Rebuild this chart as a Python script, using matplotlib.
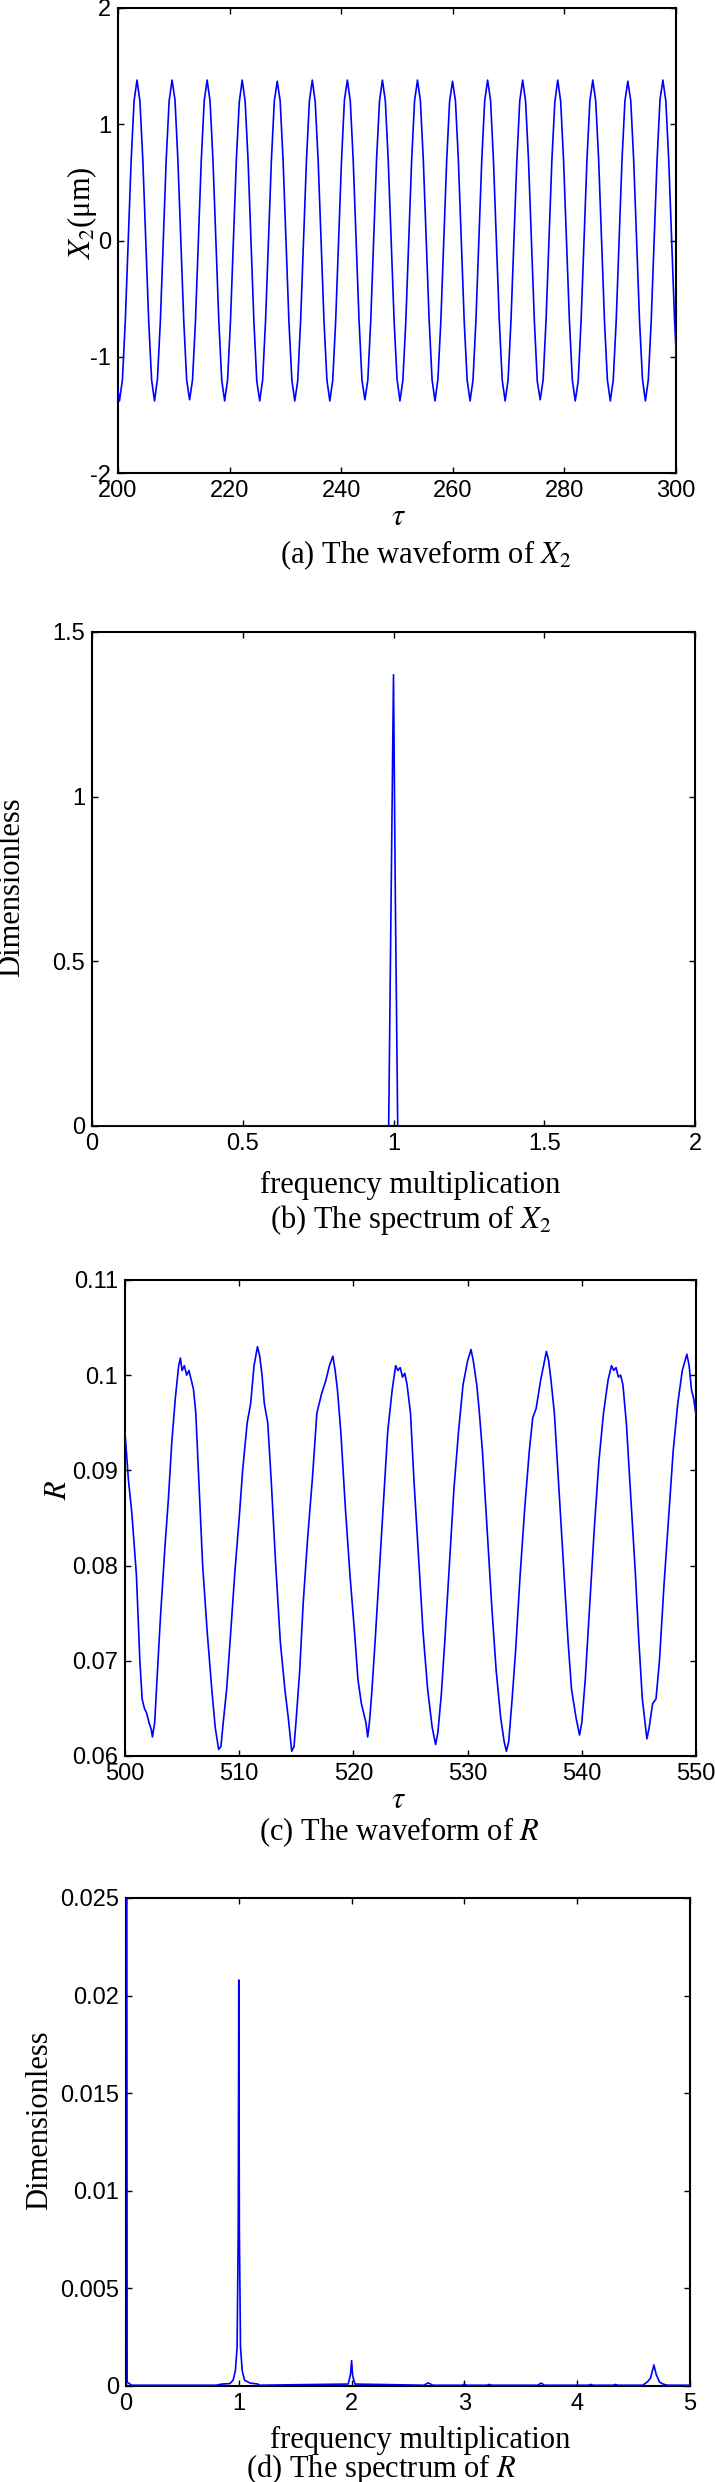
import numpy as np
import matplotlib
matplotlib.use('Agg')
import matplotlib.pyplot as plt
from matplotlib.ticker import FormatStrFormatter

plt.rcParams['font.family'] = ['Liberation Sans', 'DejaVu Sans']
plt.rcParams['mathtext.fontset'] = 'stix'

# (a) waveform of X2, sampled every 0.5236 tau starting at 199.74
x2_start, x2_step = 199.74, 0.5236
x2_vals = [-1.20,
           -1.38, -1.20, -0.69, 0.00, 0.69, 1.20, 1.38, 1.20, 0.69, 0.00, -0.69, -1.20,
           -1.38, -1.19, -0.69, 0.00, 0.70, 1.20, 1.38, 1.21, 0.69, 0.00, -0.69, -1.20,
           -1.37, -1.20, -0.70, 0.00, 0.69, 1.20, 1.38, 1.20, 0.69, 0.01, -0.69, -1.20,
           -1.38, -1.20, -0.69, 0.00, 0.69, 1.19, 1.38, 1.20, 0.70, 0.00, -0.69, -1.21,
           -1.38, -1.20, -0.69, 0.00, 0.69, 1.20, 1.37, 1.20, 0.69, 0.00, -0.70, -1.20,
           -1.38, -1.21, -0.69, 0.00, 0.69, 1.20, 1.38, 1.19, 0.69, 0.00, -0.69, -1.20,
           -1.38, -1.20, -0.69, 0.01, 0.69, 1.21, 1.38, 1.20, 0.69, 0.00, -0.69, -1.20,
           -1.37, -1.20, -0.69, 0.00, 0.70, 1.20, 1.38, 1.20, 0.68, 0.00, -0.69, -1.19,
           -1.38, -1.20, -0.70, 0.00, 0.69, 1.20, 1.38, 1.20, 0.69, 0.00, -0.69, -1.20,
           -1.38, -1.19, -0.69, 0.00, 0.69, 1.20, 1.37, 1.20, 0.69, 0.00, -0.70, -1.20,
           -1.38, -1.20, -0.69, 0.00, 0.69, 1.20, 1.38, 1.21, 0.69, 0.00, -0.69, -1.20,
           -1.38, -1.20, -0.69, 0.00, 0.68, 1.20, 1.38, 1.20, 0.69, 0.01, -0.69, -1.21,
           -1.37, -1.20, -0.69, 0.00, 0.69, 1.19, 1.38, 1.20, 0.69, 0.00, -0.69, -1.20,
           -1.38, -1.21, -0.69, 0.00, 0.69, 1.20, 1.38, 1.20, 0.70, 0.00, -0.69, -1.20,
           -1.38, -1.20, -0.70, 0.00, 0.69, 1.20, 1.37, 1.20, 0.69, 0.00, -0.69, -1.19,
           -1.38, -1.20, -0.69, 0.00, 0.69, 1.21, 1.38, 1.20, 0.69, 0.00, -0.69, -1.20]

# (b) spectrum of X2
freq_b = [0.0, 0.984, 1.0, 1.006, 1.014, 2.0]
amp_b = [0.0, 0.0, 1.37, 0.70, 0.0, 0.0]

# (c) waveform of R
tau_c = [500.0, 500.3, 500.6, 501.0, 501.3, 501.5, 501.7, 501.9, 502.1, 502.3, 502.4, 502.6,
         502.8, 503.1, 503.5, 503.8, 504.1, 504.4, 504.7, 504.85, 505.0, 505.2, 505.4, 505.6,
         505.8, 506.0, 506.2, 506.5, 506.8, 507.2, 507.6, 507.9, 508.2, 508.4, 508.6, 508.9,
         509.2, 509.6, 510.0, 510.3, 510.7, 511.0, 511.3, 511.6, 511.8, 512.0, 512.2, 512.5,
         512.8, 513.2, 513.6, 514.0, 514.3, 514.6, 514.8, 515.0, 515.3, 515.6, 516.0, 516.4,
         516.8, 517.2, 517.6, 517.9, 518.2, 518.4, 518.6, 518.9, 519.3, 519.7, 520.1, 520.4,
         520.7, 520.9, 521.1, 521.25, 521.4, 521.6, 521.9, 522.3, 522.7, 523.0, 523.4, 523.7,
         523.9, 524.1, 524.3, 524.5, 524.7, 525.0, 525.3, 525.7, 526.1, 526.5, 526.9, 527.2,
         527.4, 527.7, 528.0, 528.4, 528.8, 529.2, 529.6, 530.0, 530.3, 530.5, 530.8, 531.0,
         531.3, 531.7, 532.1, 532.5, 532.9, 533.2, 533.4, 533.6, 533.9, 534.2, 534.6, 535.0,
         535.4, 535.7, 536.0, 536.4, 536.9, 537.1, 537.3, 537.6, 538.0, 538.4, 538.8, 539.1,
         539.3, 539.5, 539.8, 540.0, 540.3, 540.7, 541.1, 541.5, 541.9, 542.3, 542.6, 542.8,
         543.0, 543.2, 543.4, 543.6, 543.9, 544.3, 544.7, 545.0, 545.3, 545.7, 545.9, 546.2,
         546.5, 546.8, 547.2, 547.6, 548.0, 548.4, 548.8, 549.2, 549.4, 549.6, 549.8, 550.0]
r_vals = [0.0940, 0.0890, 0.0855, 0.0790, 0.0700, 0.0660, 0.0650, 0.0645, 0.0635, 0.0628, 0.0620, 0.0635,
          0.0680, 0.0745, 0.0820, 0.0870, 0.0930, 0.0975, 0.1010, 0.1018, 0.1005, 0.1010, 0.1000, 0.1005,
          0.0995, 0.0985, 0.0960, 0.0880, 0.0800, 0.0730, 0.0670, 0.0630, 0.0607, 0.0610, 0.0635, 0.0670,
          0.0720, 0.0790, 0.0850, 0.0900, 0.0950, 0.0970, 0.1010, 0.1030, 0.1020, 0.1000, 0.0970, 0.0950,
          0.0890, 0.0800, 0.0720, 0.0670, 0.0640, 0.0605, 0.0610, 0.0640, 0.0690, 0.0760, 0.0830, 0.0890,
          0.0960, 0.0980, 0.0995, 0.1010, 0.1020, 0.1005, 0.0985, 0.0940, 0.0860, 0.0790, 0.0730, 0.0680,
          0.0655, 0.0645, 0.0635, 0.0620, 0.0635, 0.0665, 0.0720, 0.0800, 0.0880, 0.0940, 0.0985, 0.1010,
          0.1005, 0.1008, 0.0998, 0.1002, 0.0990, 0.0960, 0.0890, 0.0810, 0.0730, 0.0670, 0.0630, 0.0612,
          0.0625, 0.0665, 0.0720, 0.0800, 0.0880, 0.0940, 0.0990, 0.1015, 0.1027, 0.1015, 0.0990, 0.0965,
          0.0920, 0.0840, 0.0760, 0.0690, 0.0640, 0.0615, 0.0605, 0.0615, 0.0660, 0.0710, 0.0790, 0.0860,
          0.0920, 0.0955, 0.0965, 0.0995, 0.1025, 0.1015, 0.0995, 0.0960, 0.0880, 0.0800, 0.0720, 0.0670,
          0.0655, 0.0640, 0.0622, 0.0635, 0.0680, 0.0760, 0.0840, 0.0910, 0.0960, 0.0995, 0.1010, 0.1005,
          0.1008, 0.0998, 0.1000, 0.0990, 0.0950, 0.0870, 0.0790, 0.0720, 0.0660, 0.0618, 0.0630, 0.0655,
          0.0660, 0.0700, 0.0780, 0.0850, 0.0920, 0.0970, 0.1005, 0.1022, 0.1010, 0.0985, 0.0975, 0.0958]

# (d) spectrum of R
freq_d = [0.0, 0.01, 0.05, 0.80, 0.85, 0.92, 0.95, 0.97, 0.985, 0.995, 1.0, 1.005, 1.015,
          1.03, 1.05, 1.10, 1.17, 1.18, 1.97, 1.99, 2.0, 2.01, 2.03, 2.64, 2.68, 2.72,
          2.98, 3.0, 3.02, 3.20, 3.22, 3.24, 3.65, 3.68, 3.71, 4.10, 4.12, 4.14, 4.32,
          4.34, 4.36, 4.58, 4.62, 4.65, 4.68, 4.70, 4.73, 4.76, 4.80, 5.0]
amp_d = [0.09, 0.0002, 0.00004, 0.00004, 0.0001, 0.00012, 0.0003, 0.0008, 0.002, 0.008, 0.0208, 0.008, 0.002,
         0.0008, 0.0003, 0.00015, 0.0001, 0.00004, 0.0001, 0.0006, 0.0013, 0.0005, 0.0001, 0.00004, 0.00016, 0.00004,
         0.00004, 0.00010, 0.00004, 0.00004, 0.00008, 0.00004, 0.00004, 0.00015, 0.00004, 0.00004, 0.00008, 0.00004, 0.00004,
         0.00008, 0.00004, 0.00004, 0.0002, 0.0004, 0.00108, 0.0006, 0.0002, 0.0001, 0.00004, 0.00004]

W, H = 715, 2482
fig = plt.figure(figsize=(W / 100, H / 100), dpi=100)


def box(l, t, r, b):
    return [l / W, 1 - b / H, (r - l) / W, (b - t) / H]


def label(x, y, s, rot=0):
    fig.text(x / W, 1 - y / H, s, ha='center', va='center', rotation=rot,
             fontsize=22, family='Liberation Serif')


def style(ax):
    ax.tick_params(direction='in', length=4.3, width=1, top=True, right=True,
                   labelsize=17, pad=5)
    for s in ax.spines.values():
        s.set_linewidth(1.5)
    ax.xaxis.set_major_formatter(FormatStrFormatter('%g'))
    ax.yaxis.set_major_formatter(FormatStrFormatter('%g'))


# blue trace drawn over the black frame, like the original
line_kw = dict(color='#0000ff', lw=1.2, zorder=3)

# (a)
ax = fig.add_axes(box(118, 8, 676, 473))
tau_a = x2_start + x2_step * np.arange(len(x2_vals))
ax.plot(tau_a, x2_vals, **line_kw)
ax.set_xlim(200, 300)
ax.set_ylim(-2, 2)
ax.set_xticks(np.arange(200, 301, 20))
ax.set_yticks([-2, -1, 0, 1, 2])
style(ax)
label(82, 213, r'$X_2$(μm)', rot=90)
label(399, 518, r'$\tau$')
label(426, 555, r'(a) The waveform of $X_2$')

# (b)
ax = fig.add_axes(box(92, 632, 695, 1126))
ax.plot(freq_b, amp_b, **line_kw)
ax.set_xlim(0, 2)
ax.set_ylim(0, 1.5)
ax.set_xticks([0, 0.5, 1, 1.5, 2])
ax.set_yticks([0, 0.5, 1, 1.5])
style(ax)
label(12, 887, 'Dimensionless', rot=90)
label(410, 1185, 'frequency multiplication')
label(411, 1220, r'(b) The spectrum of $X_2$')

# (c)
ax = fig.add_axes(box(125, 1280, 696, 1756))
ax.plot(tau_c, r_vals, **line_kw)
ax.set_xlim(500, 550)
ax.set_ylim(0.06, 0.11)
ax.set_xticks(np.arange(500, 551, 10))
ax.set_yticks([0.06, 0.07, 0.08, 0.09, 0.1, 0.11])
style(ax)
label(58, 1490, r'$R$', rot=90)
label(399, 1801, r'$\tau$')
label(399, 1832, r'(c) The waveform of $R$')

# (d)
ax = fig.add_axes(box(126, 1898, 690, 2386))
ax.plot(freq_d, amp_d, **line_kw)
ax.set_xlim(0, 5)
ax.set_ylim(0, 0.025)
ax.set_xticks([0, 1, 2, 3, 4, 5])
ax.set_yticks([0, 0.005, 0.01, 0.015, 0.02, 0.025])
style(ax)
label(40, 2120, 'Dimensionless', rot=90)
label(420, 2440, 'frequency multiplication')
label(381, 2469, r'(d) The spectrum of $R$')

fig.savefig('out.png', dpi=100)
